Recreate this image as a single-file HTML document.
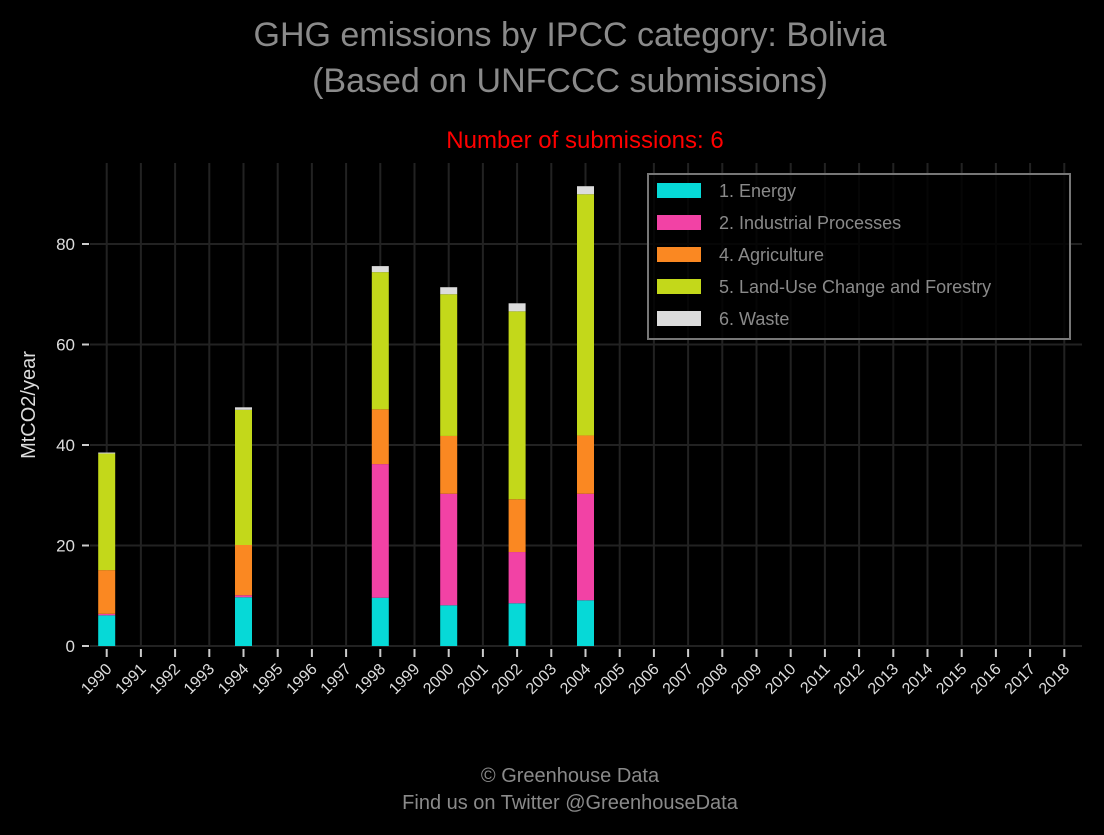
<!DOCTYPE html>
<html><head><meta charset="utf-8"><style>
body{margin:0;background:#000;}
svg text{font-family:"Liberation Sans",sans-serif;}
</style></head><body>
<svg id="c" width="1104" height="830" viewBox="0 0 1104 830">
<rect width="1104" height="830" fill="#000"/>
<text x="570" y="46" text-anchor="middle" font-size="34" fill="#8a8a8a">GHG emissions by IPCC category: Bolivia</text>
<text x="570" y="92" text-anchor="middle" font-size="34" fill="#8a8a8a">(Based on UNFCCC submissions)</text>
<text x="585" y="148" text-anchor="middle" font-size="24" fill="#ff0000">Number of submissions: 6</text>
<g id="grid"></g>
<g id="bars"></g>
<g id="axes"></g>
<text transform="translate(35,405) rotate(-90)" text-anchor="middle" font-size="20" fill="#dddddd">MtCO2/year</text>
<g>
<rect x="648" y="174" width="422" height="165" fill="#000" fill-opacity="0.8" stroke="#777" stroke-width="2"/>
<g id="leg"></g>
</g>
<text x="570" y="782" text-anchor="middle" font-size="20" fill="#8a8a8a">© Greenhouse Data</text>
<text x="570" y="809" text-anchor="middle" font-size="20" fill="#8a8a8a">Find us on Twitter @GreenhouseData</text>
</svg>
<script>
const years=[1990,1994,1998,2000,2002,2004];
const energy=[6.1,9.7,9.6,8.1,8.5,9.1];
const industrial=[0.3,0.4,26.6,22.2,10.2,21.2];
const agriculture=[8.7,10.0,10.9,11.5,10.5,11.6];
const landuse=[23.2,26.9,27.3,28.2,37.4,48.0];
const waste=[0.2,0.5,1.2,1.4,1.6,1.6];
const seriesNames=["1. Energy","2. Industrial Processes","4. Agriculture","5. Land-Use Change and Forestry","6. Waste"];
const yTicks=[0,20,40,60,80];
const xYears=[];for(let y=1990;y<=2018;y++)xYears.push(y);

const NS="http://www.w3.org/2000/svg";
const colors=["#06d9d7","#f242a5","#fa8822","#c3d81a","#dcdcdc"];
const series=[energy,industrial,agriculture,landuse,waste];
const L=90,R=1082,T=163,B=646;
const xs=y=>106.7+(y-1990)*34.2;
const ys=v=>B-v*5.025;
function mk(tag,attrs,parent){const e=document.createElementNS(NS,tag);for(const k in attrs)e.setAttribute(k,attrs[k]);parent.appendChild(e);return e;}
const grid=document.getElementById('grid'),bars=document.getElementById('bars'),axes=document.getElementById('axes'),leg=document.getElementById('leg');
xYears.forEach(y=>{
 const g=mk('line',{x1:xs(y),x2:xs(y),y1:T,y2:B,stroke:'#222','stroke-width':2},grid);
 
 
 const t=mk('line',{x1:xs(y),x2:xs(y),y1:B+3,y2:B+11,stroke:'#ccc','stroke-width':2},axes);
 
 
 const lb=mk('text',{transform:`translate(${xs(y)+6},${B+24}) rotate(-45)`,'text-anchor':'end','font-size':16,fill:'#dddddd'},axes);
 lb.textContent=y;
 
 
});
yTicks.forEach(v=>{
 const g=mk('line',{x1:L,x2:R,y1:ys(v),y2:ys(v),stroke:'#222','stroke-width':2},grid);
 
 
 const t=mk('line',{x1:82,x2:89,y1:ys(v),y2:ys(v),stroke:'#ccc','stroke-width':2},axes);
 
 
 const lb=mk('text',{x:75,y:ys(v)+6,'text-anchor':'end','font-size':17,fill:'#dddddd'},axes);
 lb.textContent=v;
 
 
});
years.forEach((yr,i)=>{
 let base=0;
 series.forEach((s,j)=>{
  const v=s[i];
  const r=mk('rect',{x:xs(yr)-8.5,width:17,y:ys(base+v),height:ys(base)-ys(base+v),fill:colors[j]},bars);
  
  
  base+=v;
 });
});
seriesNames.forEach((n,j)=>{
 const y=190+j*32;
 const r=mk('rect',{x:657,y:y-7,width:44,height:15,fill:colors[j]},leg);
 
 
 const t=mk('text',{x:719,y:y+7,'font-size':18,fill:'#8a8a8a'},leg);
 t.textContent=n;
 
 
});
</script>
</body></html>
